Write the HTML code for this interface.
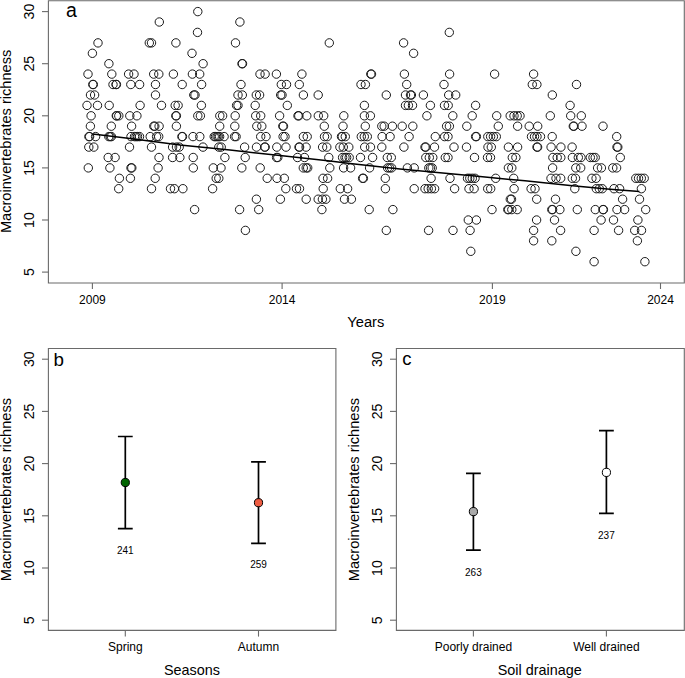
<!DOCTYPE html><html><head><meta charset="utf-8"><style>html,body{margin:0;padding:0;background:#fff;}svg{display:block;}text{font-family:"Liberation Sans",sans-serif;fill:#000;}</style></head><body>
<svg width="685" height="678" viewBox="0 0 685 678">
<rect width="685" height="678" fill="#fff"/>
<g fill="none" stroke="#6a6a6a" stroke-width="1.1">
<path d="M48.4 0.8H684.3V283H48.4Z"/>
<path d="M42 11.6H48.4"/>
<path d="M42 63.7H48.4"/>
<path d="M42 115.8H48.4"/>
<path d="M42 167.9H48.4"/>
<path d="M42 220.0H48.4"/>
<path d="M42 272.1H48.4"/>
<path d="M92.4 283V289"/>
<path d="M282.1 283V289"/>
<path d="M492.4 283V289"/>
<path d="M660.5 283V289"/>
</g>
<g fill="none" stroke="#1a1a1a" stroke-width="1">
<circle cx="197.8" cy="11.6" r="4.2"/>
<circle cx="159.3" cy="22.0" r="4.2"/>
<circle cx="239.9" cy="22.0" r="4.2"/>
<circle cx="197.5" cy="32.4" r="4.2"/>
<circle cx="449.3" cy="32.4" r="4.2"/>
<circle cx="98.0" cy="42.9" r="4.2"/>
<circle cx="149.3" cy="42.9" r="4.2"/>
<circle cx="151.5" cy="42.9" r="4.2"/>
<circle cx="175.9" cy="42.9" r="4.2"/>
<circle cx="235.5" cy="42.9" r="4.2"/>
<circle cx="329.3" cy="42.9" r="4.2"/>
<circle cx="403.6" cy="42.9" r="4.2"/>
<circle cx="92.4" cy="53.3" r="4.2"/>
<circle cx="192.0" cy="53.3" r="4.2"/>
<circle cx="413.6" cy="53.3" r="4.2"/>
<circle cx="108.9" cy="63.7" r="4.2"/>
<circle cx="203.1" cy="63.7" r="4.2"/>
<circle cx="242.0" cy="63.7" r="4.2"/>
<circle cx="242.5" cy="63.7" r="4.2"/>
<circle cx="88.0" cy="74.1" r="4.2"/>
<circle cx="111.8" cy="74.1" r="4.2"/>
<circle cx="128.6" cy="74.1" r="4.2"/>
<circle cx="134.0" cy="74.1" r="4.2"/>
<circle cx="153.7" cy="74.1" r="4.2"/>
<circle cx="158.8" cy="74.1" r="4.2"/>
<circle cx="173.4" cy="74.1" r="4.2"/>
<circle cx="192.4" cy="74.1" r="4.2"/>
<circle cx="199.7" cy="74.1" r="4.2"/>
<circle cx="260.0" cy="74.1" r="4.2"/>
<circle cx="265.1" cy="74.1" r="4.2"/>
<circle cx="276.4" cy="74.1" r="4.2"/>
<circle cx="301.9" cy="74.1" r="4.2"/>
<circle cx="370.8" cy="74.1" r="4.2"/>
<circle cx="371.5" cy="74.1" r="4.2"/>
<circle cx="404.4" cy="74.1" r="4.2"/>
<circle cx="449.6" cy="74.1" r="4.2"/>
<circle cx="494.6" cy="74.1" r="4.2"/>
<circle cx="533.6" cy="74.1" r="4.2"/>
<circle cx="92.8" cy="84.5" r="4.2"/>
<circle cx="93.3" cy="84.5" r="4.2"/>
<circle cx="113.0" cy="84.5" r="4.2"/>
<circle cx="116.0" cy="84.5" r="4.2"/>
<circle cx="116.4" cy="84.5" r="4.2"/>
<circle cx="130.8" cy="84.5" r="4.2"/>
<circle cx="139.6" cy="84.5" r="4.2"/>
<circle cx="155.5" cy="84.5" r="4.2"/>
<circle cx="182.2" cy="84.5" r="4.2"/>
<circle cx="201.6" cy="84.5" r="4.2"/>
<circle cx="241.0" cy="84.5" r="4.2"/>
<circle cx="281.3" cy="84.5" r="4.2"/>
<circle cx="286.5" cy="84.5" r="4.2"/>
<circle cx="299.3" cy="84.5" r="4.2"/>
<circle cx="361.0" cy="84.5" r="4.2"/>
<circle cx="365.4" cy="84.5" r="4.2"/>
<circle cx="406.7" cy="84.5" r="4.2"/>
<circle cx="444.0" cy="84.5" r="4.2"/>
<circle cx="532.3" cy="84.5" r="4.2"/>
<circle cx="536.9" cy="84.5" r="4.2"/>
<circle cx="576.5" cy="84.5" r="4.2"/>
<circle cx="90.5" cy="95.0" r="4.2"/>
<circle cx="94.6" cy="95.0" r="4.2"/>
<circle cx="155.5" cy="95.0" r="4.2"/>
<circle cx="193.8" cy="95.0" r="4.2"/>
<circle cx="195.0" cy="95.0" r="4.2"/>
<circle cx="238.0" cy="95.0" r="4.2"/>
<circle cx="242.3" cy="95.0" r="4.2"/>
<circle cx="256.3" cy="95.0" r="4.2"/>
<circle cx="259.6" cy="95.0" r="4.2"/>
<circle cx="280.7" cy="95.0" r="4.2"/>
<circle cx="282.0" cy="95.0" r="4.2"/>
<circle cx="303.4" cy="95.0" r="4.2"/>
<circle cx="318.2" cy="95.0" r="4.2"/>
<circle cx="386.3" cy="95.0" r="4.2"/>
<circle cx="405.5" cy="95.0" r="4.2"/>
<circle cx="410.5" cy="95.0" r="4.2"/>
<circle cx="411.4" cy="95.0" r="4.2"/>
<circle cx="423.4" cy="95.0" r="4.2"/>
<circle cx="448.7" cy="95.0" r="4.2"/>
<circle cx="455.7" cy="95.0" r="4.2"/>
<circle cx="552.3" cy="95.0" r="4.2"/>
<circle cx="87.0" cy="105.4" r="4.2"/>
<circle cx="97.5" cy="105.4" r="4.2"/>
<circle cx="109.2" cy="105.4" r="4.2"/>
<circle cx="140.1" cy="105.4" r="4.2"/>
<circle cx="161.5" cy="105.4" r="4.2"/>
<circle cx="175.2" cy="105.4" r="4.2"/>
<circle cx="178.1" cy="105.4" r="4.2"/>
<circle cx="201.4" cy="105.4" r="4.2"/>
<circle cx="236.6" cy="105.4" r="4.2"/>
<circle cx="238.0" cy="105.4" r="4.2"/>
<circle cx="255.2" cy="105.4" r="4.2"/>
<circle cx="287.3" cy="105.4" r="4.2"/>
<circle cx="364.4" cy="105.4" r="4.2"/>
<circle cx="405.5" cy="105.4" r="4.2"/>
<circle cx="408.4" cy="105.4" r="4.2"/>
<circle cx="412.5" cy="105.4" r="4.2"/>
<circle cx="430.4" cy="105.4" r="4.2"/>
<circle cx="444.5" cy="105.4" r="4.2"/>
<circle cx="448.2" cy="105.4" r="4.2"/>
<circle cx="475.6" cy="105.4" r="4.2"/>
<circle cx="570.1" cy="105.4" r="4.2"/>
<circle cx="91.1" cy="115.8" r="4.2"/>
<circle cx="116.3" cy="115.8" r="4.2"/>
<circle cx="116.7" cy="115.8" r="4.2"/>
<circle cx="118.8" cy="115.8" r="4.2"/>
<circle cx="129.8" cy="115.8" r="4.2"/>
<circle cx="136.9" cy="115.8" r="4.2"/>
<circle cx="175.8" cy="115.8" r="4.2"/>
<circle cx="176.4" cy="115.8" r="4.2"/>
<circle cx="197.8" cy="115.8" r="4.2"/>
<circle cx="200.4" cy="115.8" r="4.2"/>
<circle cx="219.8" cy="115.8" r="4.2"/>
<circle cx="222.6" cy="115.8" r="4.2"/>
<circle cx="235.2" cy="115.8" r="4.2"/>
<circle cx="255.7" cy="115.8" r="4.2"/>
<circle cx="260.7" cy="115.8" r="4.2"/>
<circle cx="279.6" cy="115.8" r="4.2"/>
<circle cx="298.0" cy="115.8" r="4.2"/>
<circle cx="298.8" cy="115.8" r="4.2"/>
<circle cx="306.8" cy="115.8" r="4.2"/>
<circle cx="318.3" cy="115.8" r="4.2"/>
<circle cx="323.7" cy="115.8" r="4.2"/>
<circle cx="343.8" cy="115.8" r="4.2"/>
<circle cx="364.4" cy="115.8" r="4.2"/>
<circle cx="370.4" cy="115.8" r="4.2"/>
<circle cx="426.9" cy="115.8" r="4.2"/>
<circle cx="452.8" cy="115.8" r="4.2"/>
<circle cx="472.2" cy="115.8" r="4.2"/>
<circle cx="496.7" cy="115.8" r="4.2"/>
<circle cx="510.2" cy="115.8" r="4.2"/>
<circle cx="514.0" cy="115.8" r="4.2"/>
<circle cx="517.2" cy="115.8" r="4.2"/>
<circle cx="520.0" cy="115.8" r="4.2"/>
<circle cx="550.3" cy="115.8" r="4.2"/>
<circle cx="570.7" cy="115.8" r="4.2"/>
<circle cx="581.3" cy="115.8" r="4.2"/>
<circle cx="90.4" cy="126.2" r="4.2"/>
<circle cx="111.3" cy="126.2" r="4.2"/>
<circle cx="131.6" cy="126.2" r="4.2"/>
<circle cx="153.8" cy="126.2" r="4.2"/>
<circle cx="154.8" cy="126.2" r="4.2"/>
<circle cx="159.1" cy="126.2" r="4.2"/>
<circle cx="176.4" cy="126.2" r="4.2"/>
<circle cx="219.7" cy="126.2" r="4.2"/>
<circle cx="234.8" cy="126.2" r="4.2"/>
<circle cx="256.8" cy="126.2" r="4.2"/>
<circle cx="261.8" cy="126.2" r="4.2"/>
<circle cx="282.8" cy="126.2" r="4.2"/>
<circle cx="283.5" cy="126.2" r="4.2"/>
<circle cx="324.3" cy="126.2" r="4.2"/>
<circle cx="343.0" cy="126.2" r="4.2"/>
<circle cx="365.3" cy="126.2" r="4.2"/>
<circle cx="381.8" cy="126.2" r="4.2"/>
<circle cx="384.2" cy="126.2" r="4.2"/>
<circle cx="392.4" cy="126.2" r="4.2"/>
<circle cx="402.2" cy="126.2" r="4.2"/>
<circle cx="412.8" cy="126.2" r="4.2"/>
<circle cx="446.6" cy="126.2" r="4.2"/>
<circle cx="449.4" cy="126.2" r="4.2"/>
<circle cx="466.8" cy="126.2" r="4.2"/>
<circle cx="498.3" cy="126.2" r="4.2"/>
<circle cx="517.6" cy="126.2" r="4.2"/>
<circle cx="529.2" cy="126.2" r="4.2"/>
<circle cx="537.7" cy="126.2" r="4.2"/>
<circle cx="573.3" cy="126.2" r="4.2"/>
<circle cx="573.9" cy="126.2" r="4.2"/>
<circle cx="582.0" cy="126.2" r="4.2"/>
<circle cx="603.0" cy="126.2" r="4.2"/>
<circle cx="88.9" cy="136.6" r="4.2"/>
<circle cx="89.6" cy="136.6" r="4.2"/>
<circle cx="95.6" cy="136.6" r="4.2"/>
<circle cx="108.8" cy="136.6" r="4.2"/>
<circle cx="110.2" cy="136.6" r="4.2"/>
<circle cx="111.4" cy="136.6" r="4.2"/>
<circle cx="131.0" cy="136.6" r="4.2"/>
<circle cx="134.5" cy="136.6" r="4.2"/>
<circle cx="136.0" cy="136.6" r="4.2"/>
<circle cx="137.5" cy="136.6" r="4.2"/>
<circle cx="139.5" cy="136.6" r="4.2"/>
<circle cx="150.2" cy="136.6" r="4.2"/>
<circle cx="156.6" cy="136.6" r="4.2"/>
<circle cx="158.7" cy="136.6" r="4.2"/>
<circle cx="181.9" cy="136.6" r="4.2"/>
<circle cx="182.5" cy="136.6" r="4.2"/>
<circle cx="193.0" cy="136.6" r="4.2"/>
<circle cx="199.8" cy="136.6" r="4.2"/>
<circle cx="214.2" cy="136.6" r="4.2"/>
<circle cx="215.5" cy="136.6" r="4.2"/>
<circle cx="217.0" cy="136.6" r="4.2"/>
<circle cx="218.3" cy="136.6" r="4.2"/>
<circle cx="219.6" cy="136.6" r="4.2"/>
<circle cx="224.1" cy="136.6" r="4.2"/>
<circle cx="234.6" cy="136.6" r="4.2"/>
<circle cx="236.1" cy="136.6" r="4.2"/>
<circle cx="260.7" cy="136.6" r="4.2"/>
<circle cx="266.0" cy="136.6" r="4.2"/>
<circle cx="283.1" cy="136.6" r="4.2"/>
<circle cx="285.0" cy="136.6" r="4.2"/>
<circle cx="303.4" cy="136.6" r="4.2"/>
<circle cx="307.2" cy="136.6" r="4.2"/>
<circle cx="324.5" cy="136.6" r="4.2"/>
<circle cx="327.2" cy="136.6" r="4.2"/>
<circle cx="341.5" cy="136.6" r="4.2"/>
<circle cx="342.3" cy="136.6" r="4.2"/>
<circle cx="345.3" cy="136.6" r="4.2"/>
<circle cx="361.3" cy="136.6" r="4.2"/>
<circle cx="364.3" cy="136.6" r="4.2"/>
<circle cx="367.3" cy="136.6" r="4.2"/>
<circle cx="382.1" cy="136.6" r="4.2"/>
<circle cx="390.1" cy="136.6" r="4.2"/>
<circle cx="409.1" cy="136.6" r="4.2"/>
<circle cx="435.3" cy="136.6" r="4.2"/>
<circle cx="444.6" cy="136.6" r="4.2"/>
<circle cx="448.0" cy="136.6" r="4.2"/>
<circle cx="475.6" cy="136.6" r="4.2"/>
<circle cx="476.4" cy="136.6" r="4.2"/>
<circle cx="487.8" cy="136.6" r="4.2"/>
<circle cx="490.6" cy="136.6" r="4.2"/>
<circle cx="493.4" cy="136.6" r="4.2"/>
<circle cx="496.3" cy="136.6" r="4.2"/>
<circle cx="531.5" cy="136.6" r="4.2"/>
<circle cx="534.5" cy="136.6" r="4.2"/>
<circle cx="537.0" cy="136.6" r="4.2"/>
<circle cx="540.5" cy="136.6" r="4.2"/>
<circle cx="552.2" cy="136.6" r="4.2"/>
<circle cx="616.7" cy="136.6" r="4.2"/>
<circle cx="88.8" cy="147.1" r="4.2"/>
<circle cx="93.8" cy="147.1" r="4.2"/>
<circle cx="129.5" cy="147.1" r="4.2"/>
<circle cx="151.5" cy="147.1" r="4.2"/>
<circle cx="172.6" cy="147.1" r="4.2"/>
<circle cx="176.5" cy="147.1" r="4.2"/>
<circle cx="179.2" cy="147.1" r="4.2"/>
<circle cx="203.0" cy="147.1" r="4.2"/>
<circle cx="218.8" cy="147.1" r="4.2"/>
<circle cx="221.2" cy="147.1" r="4.2"/>
<circle cx="244.6" cy="147.1" r="4.2"/>
<circle cx="256.5" cy="147.1" r="4.2"/>
<circle cx="264.6" cy="147.1" r="4.2"/>
<circle cx="265.2" cy="147.1" r="4.2"/>
<circle cx="276.8" cy="147.1" r="4.2"/>
<circle cx="286.0" cy="147.1" r="4.2"/>
<circle cx="299.0" cy="147.1" r="4.2"/>
<circle cx="299.6" cy="147.1" r="4.2"/>
<circle cx="306.1" cy="147.1" r="4.2"/>
<circle cx="322.6" cy="147.1" r="4.2"/>
<circle cx="326.8" cy="147.1" r="4.2"/>
<circle cx="339.9" cy="147.1" r="4.2"/>
<circle cx="343.3" cy="147.1" r="4.2"/>
<circle cx="348.8" cy="147.1" r="4.2"/>
<circle cx="364.7" cy="147.1" r="4.2"/>
<circle cx="370.5" cy="147.1" r="4.2"/>
<circle cx="381.8" cy="147.1" r="4.2"/>
<circle cx="403.9" cy="147.1" r="4.2"/>
<circle cx="425.0" cy="147.1" r="4.2"/>
<circle cx="425.8" cy="147.1" r="4.2"/>
<circle cx="434.5" cy="147.1" r="4.2"/>
<circle cx="454.0" cy="147.1" r="4.2"/>
<circle cx="466.5" cy="147.1" r="4.2"/>
<circle cx="488.0" cy="147.1" r="4.2"/>
<circle cx="491.3" cy="147.1" r="4.2"/>
<circle cx="508.4" cy="147.1" r="4.2"/>
<circle cx="517.6" cy="147.1" r="4.2"/>
<circle cx="537.0" cy="147.1" r="4.2"/>
<circle cx="537.6" cy="147.1" r="4.2"/>
<circle cx="551.1" cy="147.1" r="4.2"/>
<circle cx="560.9" cy="147.1" r="4.2"/>
<circle cx="572.1" cy="147.1" r="4.2"/>
<circle cx="617.0" cy="147.1" r="4.2"/>
<circle cx="617.8" cy="147.1" r="4.2"/>
<circle cx="108.2" cy="157.5" r="4.2"/>
<circle cx="115.1" cy="157.5" r="4.2"/>
<circle cx="159.0" cy="157.5" r="4.2"/>
<circle cx="172.6" cy="157.5" r="4.2"/>
<circle cx="179.9" cy="157.5" r="4.2"/>
<circle cx="193.2" cy="157.5" r="4.2"/>
<circle cx="224.9" cy="157.5" r="4.2"/>
<circle cx="245.2" cy="157.5" r="4.2"/>
<circle cx="276.6" cy="157.5" r="4.2"/>
<circle cx="277.8" cy="157.5" r="4.2"/>
<circle cx="297.5" cy="157.5" r="4.2"/>
<circle cx="304.5" cy="157.5" r="4.2"/>
<circle cx="328.8" cy="157.5" r="4.2"/>
<circle cx="342.6" cy="157.5" r="4.2"/>
<circle cx="345.0" cy="157.5" r="4.2"/>
<circle cx="346.6" cy="157.5" r="4.2"/>
<circle cx="349.2" cy="157.5" r="4.2"/>
<circle cx="360.5" cy="157.5" r="4.2"/>
<circle cx="372.6" cy="157.5" r="4.2"/>
<circle cx="387.3" cy="157.5" r="4.2"/>
<circle cx="391.3" cy="157.5" r="4.2"/>
<circle cx="425.8" cy="157.5" r="4.2"/>
<circle cx="429.3" cy="157.5" r="4.2"/>
<circle cx="432.8" cy="157.5" r="4.2"/>
<circle cx="445.3" cy="157.5" r="4.2"/>
<circle cx="448.0" cy="157.5" r="4.2"/>
<circle cx="474.5" cy="157.5" r="4.2"/>
<circle cx="487.5" cy="157.5" r="4.2"/>
<circle cx="490.5" cy="157.5" r="4.2"/>
<circle cx="512.3" cy="157.5" r="4.2"/>
<circle cx="515.9" cy="157.5" r="4.2"/>
<circle cx="552.9" cy="157.5" r="4.2"/>
<circle cx="557.2" cy="157.5" r="4.2"/>
<circle cx="560.8" cy="157.5" r="4.2"/>
<circle cx="572.4" cy="157.5" r="4.2"/>
<circle cx="578.3" cy="157.5" r="4.2"/>
<circle cx="581.0" cy="157.5" r="4.2"/>
<circle cx="590.3" cy="157.5" r="4.2"/>
<circle cx="593.0" cy="157.5" r="4.2"/>
<circle cx="595.2" cy="157.5" r="4.2"/>
<circle cx="620.3" cy="157.5" r="4.2"/>
<circle cx="88.3" cy="167.9" r="4.2"/>
<circle cx="109.9" cy="167.9" r="4.2"/>
<circle cx="131.0" cy="167.9" r="4.2"/>
<circle cx="131.8" cy="167.9" r="4.2"/>
<circle cx="158.1" cy="167.9" r="4.2"/>
<circle cx="193.3" cy="167.9" r="4.2"/>
<circle cx="213.3" cy="167.9" r="4.2"/>
<circle cx="221.0" cy="167.9" r="4.2"/>
<circle cx="241.8" cy="167.9" r="4.2"/>
<circle cx="260.2" cy="167.9" r="4.2"/>
<circle cx="303.3" cy="167.9" r="4.2"/>
<circle cx="306.2" cy="167.9" r="4.2"/>
<circle cx="307.7" cy="167.9" r="4.2"/>
<circle cx="329.8" cy="167.9" r="4.2"/>
<circle cx="343.6" cy="167.9" r="4.2"/>
<circle cx="350.6" cy="167.9" r="4.2"/>
<circle cx="369.6" cy="167.9" r="4.2"/>
<circle cx="387.6" cy="167.9" r="4.2"/>
<circle cx="389.6" cy="167.9" r="4.2"/>
<circle cx="391.6" cy="167.9" r="4.2"/>
<circle cx="407.4" cy="167.9" r="4.2"/>
<circle cx="414.2" cy="167.9" r="4.2"/>
<circle cx="428.8" cy="167.9" r="4.2"/>
<circle cx="430.5" cy="167.9" r="4.2"/>
<circle cx="432.2" cy="167.9" r="4.2"/>
<circle cx="508.4" cy="167.9" r="4.2"/>
<circle cx="511.8" cy="167.9" r="4.2"/>
<circle cx="552.6" cy="167.9" r="4.2"/>
<circle cx="575.8" cy="167.9" r="4.2"/>
<circle cx="580.7" cy="167.9" r="4.2"/>
<circle cx="597.6" cy="167.9" r="4.2"/>
<circle cx="601.4" cy="167.9" r="4.2"/>
<circle cx="612.8" cy="167.9" r="4.2"/>
<circle cx="616.6" cy="167.9" r="4.2"/>
<circle cx="119.4" cy="178.3" r="4.2"/>
<circle cx="130.4" cy="178.3" r="4.2"/>
<circle cx="155.2" cy="178.3" r="4.2"/>
<circle cx="216.2" cy="178.3" r="4.2"/>
<circle cx="218.8" cy="178.3" r="4.2"/>
<circle cx="267.2" cy="178.3" r="4.2"/>
<circle cx="277.0" cy="178.3" r="4.2"/>
<circle cx="284.3" cy="178.3" r="4.2"/>
<circle cx="323.0" cy="178.3" r="4.2"/>
<circle cx="327.6" cy="178.3" r="4.2"/>
<circle cx="362.6" cy="178.3" r="4.2"/>
<circle cx="363.4" cy="178.3" r="4.2"/>
<circle cx="385.3" cy="178.3" r="4.2"/>
<circle cx="431.1" cy="178.3" r="4.2"/>
<circle cx="450.0" cy="178.3" r="4.2"/>
<circle cx="467.5" cy="178.3" r="4.2"/>
<circle cx="469.8" cy="178.3" r="4.2"/>
<circle cx="472.3" cy="178.3" r="4.2"/>
<circle cx="475.0" cy="178.3" r="4.2"/>
<circle cx="495.7" cy="178.3" r="4.2"/>
<circle cx="513.7" cy="178.3" r="4.2"/>
<circle cx="551.0" cy="178.3" r="4.2"/>
<circle cx="556.0" cy="178.3" r="4.2"/>
<circle cx="560.7" cy="178.3" r="4.2"/>
<circle cx="572.3" cy="178.3" r="4.2"/>
<circle cx="575.5" cy="178.3" r="4.2"/>
<circle cx="591.9" cy="178.3" r="4.2"/>
<circle cx="596.1" cy="178.3" r="4.2"/>
<circle cx="635.8" cy="178.3" r="4.2"/>
<circle cx="638.5" cy="178.3" r="4.2"/>
<circle cx="641.3" cy="178.3" r="4.2"/>
<circle cx="644.2" cy="178.3" r="4.2"/>
<circle cx="118.7" cy="188.7" r="4.2"/>
<circle cx="151.5" cy="188.7" r="4.2"/>
<circle cx="170.5" cy="188.7" r="4.2"/>
<circle cx="174.4" cy="188.7" r="4.2"/>
<circle cx="182.9" cy="188.7" r="4.2"/>
<circle cx="212.6" cy="188.7" r="4.2"/>
<circle cx="285.8" cy="188.7" r="4.2"/>
<circle cx="296.5" cy="188.7" r="4.2"/>
<circle cx="299.5" cy="188.7" r="4.2"/>
<circle cx="323.2" cy="188.7" r="4.2"/>
<circle cx="340.3" cy="188.7" r="4.2"/>
<circle cx="347.6" cy="188.7" r="4.2"/>
<circle cx="385.4" cy="188.7" r="4.2"/>
<circle cx="414.2" cy="188.7" r="4.2"/>
<circle cx="425.0" cy="188.7" r="4.2"/>
<circle cx="428.2" cy="188.7" r="4.2"/>
<circle cx="431.4" cy="188.7" r="4.2"/>
<circle cx="434.6" cy="188.7" r="4.2"/>
<circle cx="454.6" cy="188.7" r="4.2"/>
<circle cx="469.0" cy="188.7" r="4.2"/>
<circle cx="474.1" cy="188.7" r="4.2"/>
<circle cx="487.7" cy="188.7" r="4.2"/>
<circle cx="490.7" cy="188.7" r="4.2"/>
<circle cx="514.1" cy="188.7" r="4.2"/>
<circle cx="531.1" cy="188.7" r="4.2"/>
<circle cx="535.0" cy="188.7" r="4.2"/>
<circle cx="574.8" cy="188.7" r="4.2"/>
<circle cx="596.3" cy="188.7" r="4.2"/>
<circle cx="599.3" cy="188.7" r="4.2"/>
<circle cx="602.3" cy="188.7" r="4.2"/>
<circle cx="614.0" cy="188.7" r="4.2"/>
<circle cx="619.6" cy="188.7" r="4.2"/>
<circle cx="641.4" cy="188.7" r="4.2"/>
<circle cx="256.4" cy="199.2" r="4.2"/>
<circle cx="280.4" cy="199.2" r="4.2"/>
<circle cx="306.2" cy="199.2" r="4.2"/>
<circle cx="318.2" cy="199.2" r="4.2"/>
<circle cx="322.4" cy="199.2" r="4.2"/>
<circle cx="325.9" cy="199.2" r="4.2"/>
<circle cx="344.5" cy="199.2" r="4.2"/>
<circle cx="351.4" cy="199.2" r="4.2"/>
<circle cx="510.3" cy="199.2" r="4.2"/>
<circle cx="511.5" cy="199.2" r="4.2"/>
<circle cx="536.7" cy="199.2" r="4.2"/>
<circle cx="555.5" cy="199.2" r="4.2"/>
<circle cx="622.6" cy="199.2" r="4.2"/>
<circle cx="639.5" cy="199.2" r="4.2"/>
<circle cx="194.6" cy="209.6" r="4.2"/>
<circle cx="239.6" cy="209.6" r="4.2"/>
<circle cx="258.7" cy="209.6" r="4.2"/>
<circle cx="321.9" cy="209.6" r="4.2"/>
<circle cx="369.2" cy="209.6" r="4.2"/>
<circle cx="392.9" cy="209.6" r="4.2"/>
<circle cx="492.0" cy="209.6" r="4.2"/>
<circle cx="507.8" cy="209.6" r="4.2"/>
<circle cx="508.6" cy="209.6" r="4.2"/>
<circle cx="511.8" cy="209.6" r="4.2"/>
<circle cx="517.2" cy="209.6" r="4.2"/>
<circle cx="551.8" cy="209.6" r="4.2"/>
<circle cx="552.6" cy="209.6" r="4.2"/>
<circle cx="559.9" cy="209.6" r="4.2"/>
<circle cx="577.3" cy="209.6" r="4.2"/>
<circle cx="595.3" cy="209.6" r="4.2"/>
<circle cx="603.0" cy="209.6" r="4.2"/>
<circle cx="603.4" cy="209.6" r="4.2"/>
<circle cx="617.0" cy="209.6" r="4.2"/>
<circle cx="624.6" cy="209.6" r="4.2"/>
<circle cx="645.7" cy="209.6" r="4.2"/>
<circle cx="468.3" cy="220.0" r="4.2"/>
<circle cx="476.4" cy="220.0" r="4.2"/>
<circle cx="536.6" cy="220.0" r="4.2"/>
<circle cx="554.5" cy="220.0" r="4.2"/>
<circle cx="601.1" cy="220.0" r="4.2"/>
<circle cx="613.5" cy="220.0" r="4.2"/>
<circle cx="637.9" cy="220.0" r="4.2"/>
<circle cx="245.4" cy="230.4" r="4.2"/>
<circle cx="386.3" cy="230.4" r="4.2"/>
<circle cx="428.6" cy="230.4" r="4.2"/>
<circle cx="453.0" cy="230.4" r="4.2"/>
<circle cx="470.1" cy="230.4" r="4.2"/>
<circle cx="533.6" cy="230.4" r="4.2"/>
<circle cx="560.6" cy="230.4" r="4.2"/>
<circle cx="594.1" cy="230.4" r="4.2"/>
<circle cx="618.6" cy="230.4" r="4.2"/>
<circle cx="634.7" cy="230.4" r="4.2"/>
<circle cx="641.5" cy="230.4" r="4.2"/>
<circle cx="533.6" cy="240.8" r="4.2"/>
<circle cx="551.8" cy="240.8" r="4.2"/>
<circle cx="637.4" cy="240.8" r="4.2"/>
<circle cx="470.8" cy="251.3" r="4.2"/>
<circle cx="575.9" cy="251.3" r="4.2"/>
<circle cx="594.1" cy="261.7" r="4.2"/>
<circle cx="644.9" cy="261.7" r="4.2"/>
</g>
<polyline fill="none" stroke="#000" stroke-width="1.5" points="92.7,134.0 130,138.5 180,144.9 230,150.1 280,155.6 330,161.0 350,163.5 400,168.9 440,172.7 480,176.6 525,180.8 570,185.4 610,189.2 639.5,191.5"/>
<text transform="translate(34.3 11.6) rotate(-90) scale(1 1.08)" text-anchor="middle" font-size="14.2">30</text>
<text transform="translate(34.3 63.7) rotate(-90) scale(1 1.08)" text-anchor="middle" font-size="14.2">25</text>
<text transform="translate(34.3 115.8) rotate(-90) scale(1 1.08)" text-anchor="middle" font-size="14.2">20</text>
<text transform="translate(34.3 167.9) rotate(-90) scale(1 1.08)" text-anchor="middle" font-size="14.2">15</text>
<text transform="translate(34.3 220.0) rotate(-90) scale(1 1.08)" text-anchor="middle" font-size="14.2">10</text>
<text transform="translate(34.3 272.1) rotate(-90) scale(1 1.08)" text-anchor="middle" font-size="14.2">5</text>
<text x="92.4" y="304" text-anchor="middle" font-size="12">2009</text>
<text x="282.1" y="304" text-anchor="middle" font-size="12">2014</text>
<text x="492.4" y="304" text-anchor="middle" font-size="12">2019</text>
<text x="660.5" y="304" text-anchor="middle" font-size="12">2024</text>
<text transform="translate(365.8 326.7)" text-anchor="middle" font-size="14.7">Years</text>
<text transform="translate(11.0 141.4) rotate(-90)" text-anchor="middle" font-size="14.6">Macroinvertebrates richness</text>
<text x="66" y="16.9" font-size="19.5">a</text>
<g fill="none" stroke="#6a6a6a" stroke-width="1.1">
<path d="M48.4 348.5H335.9V630.4H48.4Z"/>
<path d="M42.0 359.2H48.4"/>
<path d="M42.0 411.4H48.4"/>
<path d="M42.0 463.6H48.4"/>
<path d="M42.0 515.8H48.4"/>
<path d="M42.0 568.0H48.4"/>
<path d="M42.0 620.2H48.4"/>
<path d="M125.3 630.4V636.6"/>
<path d="M258.5 630.4V636.6"/>
</g>
<text transform="translate(34.3 359.2) rotate(-90) scale(1 1.08)" text-anchor="middle" font-size="14.2">30</text>
<text transform="translate(34.3 411.4) rotate(-90) scale(1 1.08)" text-anchor="middle" font-size="14.2">25</text>
<text transform="translate(34.3 463.6) rotate(-90) scale(1 1.08)" text-anchor="middle" font-size="14.2">20</text>
<text transform="translate(34.3 515.8) rotate(-90) scale(1 1.08)" text-anchor="middle" font-size="14.2">15</text>
<text transform="translate(34.3 568.0) rotate(-90) scale(1 1.08)" text-anchor="middle" font-size="14.2">10</text>
<text transform="translate(34.3 620.2) rotate(-90) scale(1 1.08)" text-anchor="middle" font-size="14.2">5</text>
<text transform="translate(11.2 489.6) rotate(-90)" text-anchor="middle" font-size="14.6">Macroinvertebrates richness</text>
<text x="125.3" y="651.4" text-anchor="middle" font-size="12">Spring</text>
<g stroke="#000" stroke-width="1.7" fill="none"><path d="M125.3 436.5V528.6M117.89999999999999 436.5H132.7M117.89999999999999 528.6H132.7"/></g>
<circle cx="125.3" cy="482.5" r="4.1" fill="#006400" stroke="#000" stroke-width="1"/>
<text x="125.3" y="553.8" text-anchor="middle" font-size="10">241</text>
<text x="258.5" y="651.4" text-anchor="middle" font-size="12">Autumn</text>
<g stroke="#000" stroke-width="1.7" fill="none"><path d="M258.5 461.9V543.4M251.1 461.9H265.9M251.1 543.4H265.9"/></g>
<circle cx="258.5" cy="502.7" r="4.1" fill="#EE5C42" stroke="#000" stroke-width="1"/>
<text x="258.5" y="568.4" text-anchor="middle" font-size="10">259</text>
<text x="191.9" y="675.3" text-anchor="middle" font-size="14.4">Seasons</text>
<text x="53.5" y="365.8" font-size="18.8">b</text>
<g fill="none" stroke="#6a6a6a" stroke-width="1.1">
<path d="M396.4 348.5H684.3V630.4H396.4Z"/>
<path d="M390.0 359.2H396.4"/>
<path d="M390.0 411.4H396.4"/>
<path d="M390.0 463.6H396.4"/>
<path d="M390.0 515.8H396.4"/>
<path d="M390.0 568.0H396.4"/>
<path d="M390.0 620.2H396.4"/>
<path d="M473.4 630.4V636.6"/>
<path d="M606.4 630.4V636.6"/>
</g>
<text transform="translate(382.3 359.2) rotate(-90) scale(1 1.08)" text-anchor="middle" font-size="14.2">30</text>
<text transform="translate(382.3 411.4) rotate(-90) scale(1 1.08)" text-anchor="middle" font-size="14.2">25</text>
<text transform="translate(382.3 463.6) rotate(-90) scale(1 1.08)" text-anchor="middle" font-size="14.2">20</text>
<text transform="translate(382.3 515.8) rotate(-90) scale(1 1.08)" text-anchor="middle" font-size="14.2">15</text>
<text transform="translate(382.3 568.0) rotate(-90) scale(1 1.08)" text-anchor="middle" font-size="14.2">10</text>
<text transform="translate(382.3 620.2) rotate(-90) scale(1 1.08)" text-anchor="middle" font-size="14.2">5</text>
<text transform="translate(359.2 489.6) rotate(-90)" text-anchor="middle" font-size="14.6">Macroinvertebrates richness</text>
<text x="473.4" y="651.4" text-anchor="middle" font-size="12">Poorly drained</text>
<g stroke="#000" stroke-width="1.7" fill="none"><path d="M473.4 473.4V550.1M466.0 473.4H480.79999999999995M466.0 550.1H480.79999999999995"/></g>
<circle cx="473.4" cy="511.6" r="4.1" fill="#A9A9A9" stroke="#000" stroke-width="1"/>
<text x="473.4" y="575.8" text-anchor="middle" font-size="10">263</text>
<text x="606.4" y="651.4" text-anchor="middle" font-size="12">Well drained</text>
<g stroke="#000" stroke-width="1.7" fill="none"><path d="M606.4 430.6V513.4M599.0 430.6H613.8M599.0 513.4H613.8"/></g>
<circle cx="606.4" cy="472.4" r="4.1" fill="#FFFFFF" stroke="#000" stroke-width="1"/>
<text x="606.4" y="539.0" text-anchor="middle" font-size="10">237</text>
<text x="539.7" y="675.3" text-anchor="middle" font-size="14.4">Soil drainage</text>
<text x="402.2" y="364.6" font-size="18.5">c</text>
</svg></body></html>
